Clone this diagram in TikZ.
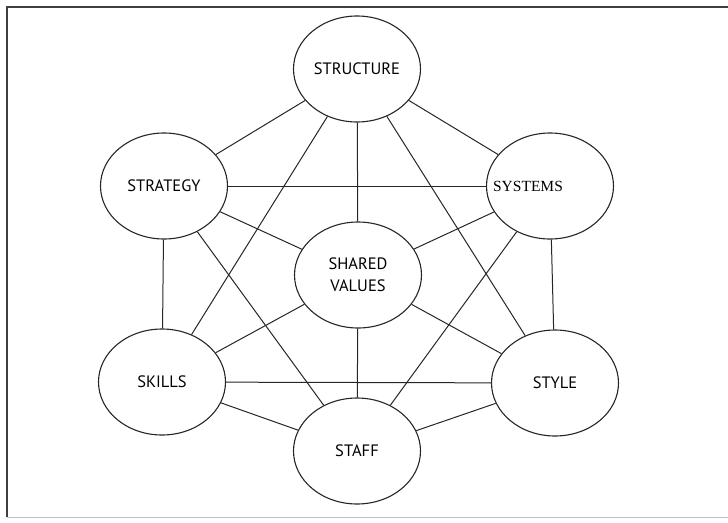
\documentclass[tikz,border=0pt]{standalone}
\usepackage{fontspec}
\setmainfont{PT Sans}
\newfontfamily\seriffont{Liberation Serif}
\usetikzlibrary{shapes.geometric}
\begin{document}
\begin{tikzpicture}[x=1pt,y=-1pt,
  elem/.style={draw=black!85, line width=1.1pt, ellipse, minimum width=127pt, minimum height=106pt, inner sep=0pt, align=center, font=\fontsize{16.5}{22}\selectfont},
  link/.style={draw=black!85, line width=1pt}]
\useasboundingbox (0,0) rectangle (728,522);
\draw[black!75, line width=1.3pt] (728,7) -- (7,7) -- (7,517);
\draw[black!25, line width=1pt] (7,517) -- (728,517);
\node[elem] (structure) at (357,69) {STRUCTURE};
\node[elem] (strategy) at (164,186) {STRATEGY};
\node[elem, label={[xshift=-22pt, font=\seriffont\fontsize{15.5}{18}\selectfont]center:SYSTEMS}] (systems) at (550,186) {};
\node[elem] (shared) at (358,275) {SHARED\\VALUES};
\node[elem] (skills) at (162,382) {SKILLS};
\node[elem] (style) at (555,383) {STYLE};
\node[elem] (staff) at (357,451) {STAFF};
\draw[link] (structure) -- (strategy);
\draw[link] (structure) -- (systems);
\draw[link] (structure) -- (shared);
\draw[link] (structure) -- (skills);
\draw[link] (structure) -- (style);
\draw[link] (strategy) -- (systems);
\draw[link] (strategy) -- (shared);
\draw[link] (strategy) -- (skills);
\draw[link] (strategy) -- (staff);
\draw[link] (systems) -- (shared);
\draw[link] (systems) -- (style);
\draw[link] (systems) -- (staff);
\draw[link] (shared) -- (skills);
\draw[link] (shared) -- (style);
\draw[link] (shared) -- (staff);
\draw[link] (skills) -- (style);
\draw[link] (skills) -- (staff);
\draw[link] (style) -- (staff);
\end{tikzpicture}
\end{document}
